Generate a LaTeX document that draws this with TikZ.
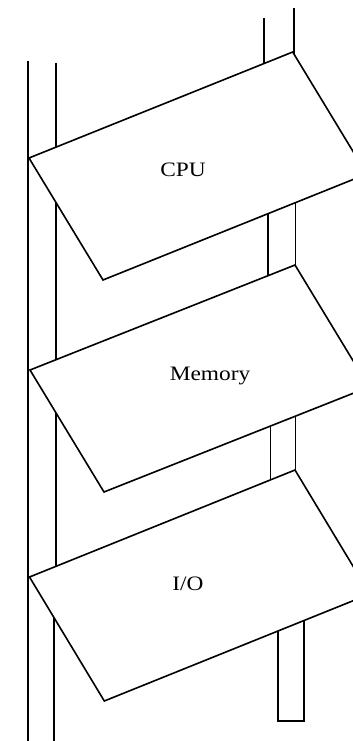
\documentclass[tikz,border=0pt]{standalone}
\usepackage{fontspec}
\setmainfont{Liberation Serif}
\tikzset{
  bus/.style={line width=1.6pt, line cap=butt},
  chip/.style={draw, fill=white, line width=1.6pt, line join=miter},
  label/.style={font=\fontsize{20.5}{22}\selectfont, anchor=base, inner sep=0pt, xscale=1.14}
}
\begin{document}
\begin{tikzpicture}[x=1pt,y=-1pt]
\clip (0,0) rectangle (353,741);
% left bus
\draw[bus] (28,60.7) -- (28,745);
\draw[bus] (55.7,62.7) -- (55.7,600);
\draw[bus] (53.7,600) -- (53.7,745);
% right bus segments
\draw[bus] (263.7,18) -- (263.7,150);
\draw[bus] (293.7,8) -- (293.7,150);
\draw[bus] (267.7,190) -- (267.7,300);
\draw[bus] (295.3,190) -- (295.3,300);
\draw[bus] (270.3,400) -- (270.3,500);
\draw[bus] (295.3,400) -- (295.3,500);
\draw[bus] (277.7,610) -- (277.7,720.7) -- (304,720.7) -- (304,610);
% parallelograms
\coordinate (cpuL) at (29,158);
\coordinate (memL) at (30,370);
\coordinate (ioL) at (29.5,577);
\draw[chip] (cpuL) -- ++(263.7,-106) -- ++(74,122) -- ++(-263.7,106) -- cycle;
\draw[chip] (memL) -- ++(265,-105) -- ++(74,122) -- ++(-265,105) -- cycle;
\draw[chip] (ioL) -- ++(265.5,-107) -- ++(74.8,124) -- ++(-265.5,107) -- cycle;
\node[label] (cpu) at (183,176) {CPU};
\node[label] (mem) at (210,380.5) {Memory};
\node[label] (io) at (188,590.5) {I/O};
\end{tikzpicture}
\end{document}
